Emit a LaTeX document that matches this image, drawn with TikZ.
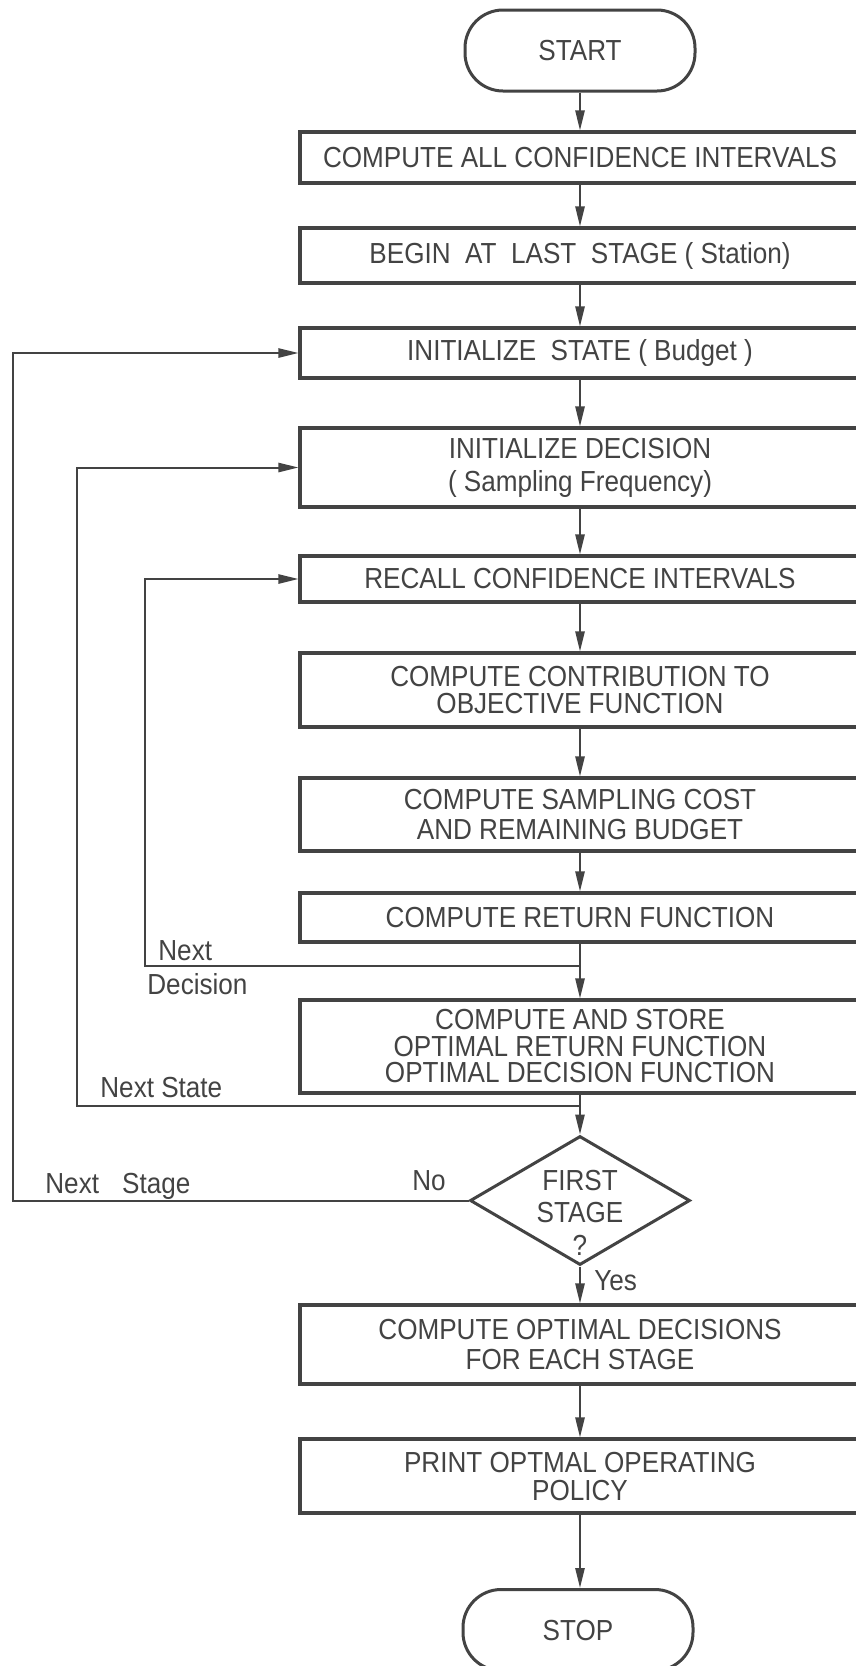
\documentclass[tikz,border=0pt]{standalone}
\usepackage{fontspec}
\setmainfont[FakeStretch=0.9]{Liberation Sans}
\usetikzlibrary{arrows.meta,shapes.geometric}
\definecolor{ink}{HTML}{434343}
\begin{document}
\begin{tikzpicture}[x=0.5pt,y=-0.5pt,
  font=\fontsize{14.5}{15}\selectfont, text=ink,
  stepbox/.style={draw=ink,line width=1.6pt,rectangle,minimum width=280pt,inner sep=0pt,align=center},
  term/.style={draw=ink,line width=1.5pt,rectangle,rounded corners=19pt,minimum width=115pt,minimum height=40.5pt},
  decision/.style={draw=ink,line width=1.5pt,diamond,minimum width=110pt,minimum height=64.5pt,inner sep=0pt},
  flow/.style={draw=ink,line width=1pt,-{Triangle[length=10pt,width=4.6pt]}},
  lbl/.style={anchor=base west,inner sep=0pt}]
% page frame (boxes run off the right edge)
\fill[white] (0,0) rectangle (856,1666);
\clip (0,0) rectangle (856,1666);

% terminals, process boxes and the decision
\node[term] (start) at (580,50.5) {START};
\node[stepbox,minimum height=25.5pt] (b1) at (580,157.5) {COMPUTE ALL CONFIDENCE INTERVALS};
\node[stepbox,minimum height=27.5pt] (b2) at (580,255.5) {BEGIN\ \ AT\ \ LAST\ \ STAGE ( Station)};
\node[stepbox,minimum height=25pt] (b3) at (580,353) {INITIALIZE\ \ STATE ( Budget )};
\node[stepbox,minimum height=39.5pt,font=\fontsize{14.5}{16.5}\selectfont] (b4) at (580,467.5) {INITIALIZE DECISION\\( Sampling Frequency)};
\node[stepbox,minimum height=23pt] (b5) at (580,579) {RECALL CONFIDENCE INTERVALS};
\node[stepbox,minimum height=37pt,font=\fontsize{14.5}{13.5}\selectfont] (b6) at (580,690) {COMPUTE CONTRIBUTION TO\\OBJECTIVE FUNCTION};
\node[stepbox,minimum height=36.5pt,font=\fontsize{14.5}{15}\selectfont] (b7) at (580,814.5) {COMPUTE SAMPLING COST\\AND REMAINING BUDGET};
\node[stepbox,minimum height=24.5pt] (b8) at (580,917.5) {COMPUTE RETURN FUNCTION};
\node[stepbox,minimum height=46.5pt,font=\fontsize{14.5}{13.25}\selectfont] (b9) at (580,1046.5) {COMPUTE AND STORE\\OPTIMAL RETURN FUNCTION\\OPTIMAL DECISION FUNCTION};
\node[decision] (dia) at (580,1200.5) {};
\node[align=center,inner sep=0pt,font=\fontsize{14.5}{16.25}\selectfont] (diatext) at (580,1212.5) {FIRST\\STAGE\\?};
\node[stepbox,minimum height=39.5pt,font=\fontsize{14.5}{15}\selectfont] (b10) at (580,1344.5) {COMPUTE OPTIMAL DECISIONS\\FOR EACH STAGE};
\node[stepbox,minimum height=37pt,font=\fontsize{14.5}{14}\selectfont] (b11) at (580,1476) {PRINT OPTMAL OPERATING\\POLICY};
\node[term] (stop) at (578,1630) {STOP};

% main flow
\draw[flow] (start) -- (b1);
\draw[flow] (b1) -- (b2);
\draw[flow] (b2) -- (b3);
\draw[flow] (b3) -- (b4);
\draw[flow] (b4) -- (b5);
\draw[flow] (b5) -- (b6);
\draw[flow] (b6) -- (b7);
\draw[flow] (b7) -- (b8);
\draw[flow] (b8) -- (b9);
\draw[flow] (b9) -- (dia);
\draw[flow] (dia) -- (b10);
\draw[flow] (b10) -- (b11);
\draw[flow] (b11.south) -- (stop.north -| b11.south);

% feedback loops
\coordinate (jdec) at (580,966);
\coordinate (cdec) at (145,966);
\coordinate (jsta) at (580,1106);
\coordinate (csta) at (77,1106);
\coordinate (cstg) at (13,1200.5);
\draw[flow] (jdec) -- (cdec) |- (b5.west);
\draw[flow] (jsta) -- (csta) |- (b4.west);
\draw[flow] (dia.west) -- (cstg) |- (b3.west);

% loop and branch labels
\node[lbl] (lnext) at (158,960) {Next};
\node[lbl] (ldec) at (147,994) {Decision};
\node[lbl] (lstate) at (100,1097) {Next State};
\node[lbl] (lstage) at (45,1193) {Next\hspace{0.8em}Stage};
\node[lbl] (lno) at (412,1190) {No};
\node[lbl] (lyes) at (594,1290) {Yes};
\end{tikzpicture}
\end{document}
